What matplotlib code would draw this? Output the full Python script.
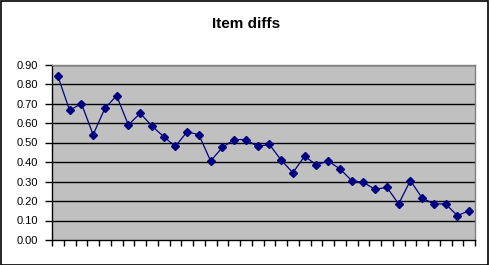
import numpy as np
import matplotlib.pyplot as plt
from matplotlib.patches import Rectangle

# item difficulty values
ITEM_NO = list(range(1, 37))
DIFFS = [0.84, 0.665, 0.70, 0.54, 0.675, 0.74, 0.59, 0.65, 0.585, 0.53,
         0.48, 0.555, 0.54, 0.405, 0.475, 0.515, 0.515, 0.48, 0.49, 0.41,
         0.345, 0.43, 0.385, 0.405, 0.365, 0.305, 0.295, 0.26, 0.27, 0.185,
         0.305, 0.215, 0.185, 0.185, 0.125, 0.15]
Y_TICKS = [0.0, 0.1, 0.2, 0.3, 0.4, 0.5, 0.6, 0.7, 0.8, 0.9]

plt.rcParams['font.family'] = ['Liberation Sans', 'DejaVu Sans']

W, H = 490, 265
fig = plt.figure(figsize=(W / 100, H / 100), dpi=100)
fig.patch.set_facecolor('white')

# outer chart border
fig.add_artist(Rectangle((0.5 / W, 0.5 / H), (488 - 0.5) / W, (H - 1.5) / H,
                         transform=fig.transFigure, fill=False,
                         edgecolor='black', linewidth=1.2))

left, right, top, bottom = 52, 475, 64.5, 240
ax = fig.add_axes([left / W, (H - bottom) / H, (right - left) / W, (bottom - top) / H])
ax.set_facecolor('#C0C0C0')

for y in Y_TICKS[1:]:
    ax.axhline(y, color='black', linewidth=1.0, zorder=1)

ax.plot(ITEM_NO, DIFFS, color='#000080', linewidth=0.9, marker='D',
        markersize=4.3, markerfacecolor='#000080', markeredgecolor='#000080', zorder=3)

ax.set_xlim(0.5, len(ITEM_NO) + 0.5)
ax.set_ylim(0, 0.9)
ax.set_xticks(np.arange(0.5, len(ITEM_NO) + 1, 1.0))
ax.set_xticklabels([])
ax.set_yticks(Y_TICKS)
ax.set_yticklabels(['%.2f' % v for v in Y_TICKS])
ax.tick_params(axis='x', direction='out', length=4, width=1, color='black')
ax.tick_params(axis='y', direction='out', length=5, width=1, color='black',
               labelsize=8, pad=5)

ax.spines['left'].set_color('black')
ax.spines['bottom'].set_color('black')
ax.spines['top'].set_color('#808080')
ax.spines['right'].set_color('#808080')
for s in ax.spines.values():
    s.set_linewidth(1.0)

fig.text(246 / W, 1 - 24 / H, 'Item diffs', ha='center', va='center',
         fontsize=11, fontweight='bold')

fig.savefig('out.png', dpi=100)
